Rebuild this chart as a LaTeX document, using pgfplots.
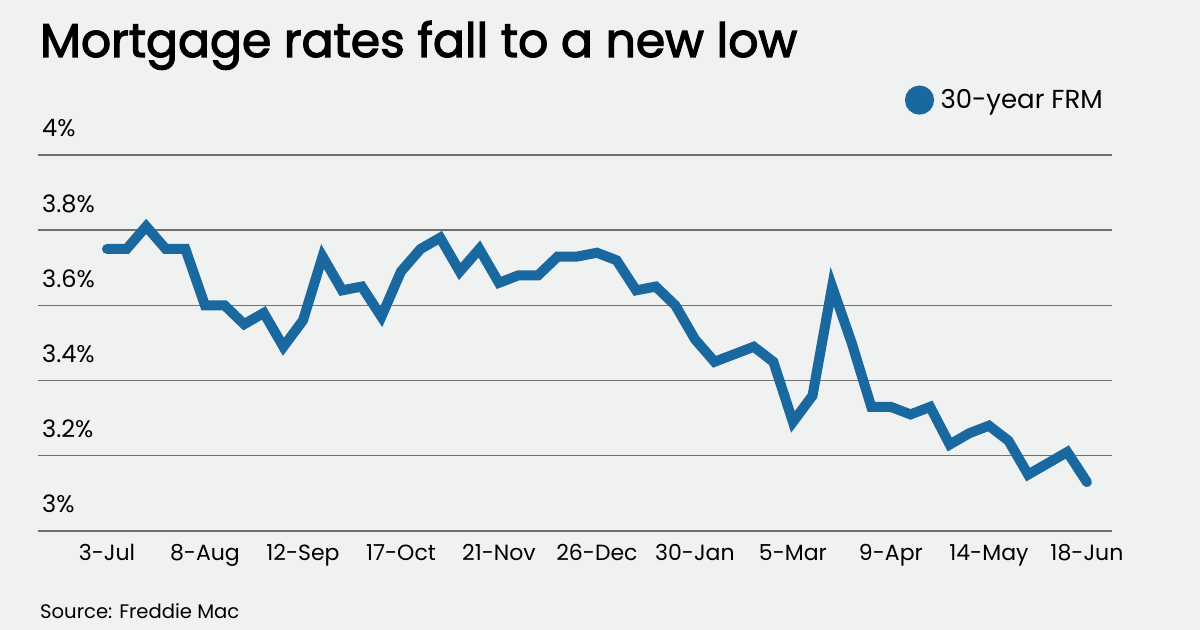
\documentclass[border=0pt]{standalone}
\usepackage{fontspec}
\setmainfont{Poppins}
\newfontfamily\titlefont{Poppins}
\usepackage{pgfplots}
\pgfplotsset{compat=1.18}
\definecolor{bg}{RGB}{240,241,241}
\definecolor{ln}{RGB}{26,104,160}
\definecolor{gr}{RGB}{112,112,112}
\begin{document}
\begin{tikzpicture}[x=1bp,y=1bp]
\fill[bg] (0,0) rectangle (1200,630);
\node[anchor=base west, inner sep=0, font=\fontsize{47.3bp}{60bp}\titlefont] at (40,573) {\special{pdf:literal direct 0 0 0 RG 2 Tr 1.2 w}Mortgage rates fall to a new low\special{pdf:literal direct 0 Tr}};
\node[anchor=base west, inner sep=0, font=\fontsize{19.6bp}{24bp}\selectfont] at (40,11) {Source: Freddie Mac};
\begin{axis}[
  at={(38bp,99bp)}, anchor=south west,
  scale only axis, width=1074bp, height=376bp,
  xmin=-3.52, xmax=51.28, ymin=3, ymax=4,
  axis line style={draw=none},
  major tick length=0pt,
  clip=false,
  ymajorgrids, grid style={gr, line width=1.4bp},
  ytick={3,3.2,3.4,3.6,3.8,4},
  yticklabels={3\%,3.2\%,3.4\%,3.6\%,3.8\%,4\%},
  yticklabel style={anchor=base west, inner sep=0pt, xshift=4bp, yshift=18bp, font=\fontsize{24bp}{26bp}\selectfont},
  xtick={0,5,...,50},
  xticklabels={3-Jul,8-Aug,12-Sep,17-Oct,21-Nov,26-Dec,30-Jan,5-Mar,9-Apr,14-May,18-Jun},
  xticklabel style={anchor=base, inner sep=0pt, yshift=-30bp, font=\fontsize{22bp}{26bp}\selectfont},
  legend style={draw=none, fill=none, at={(axis description cs:0.8071,1.146)}, anchor=west, font=\fontsize{26bp}{28bp}\selectfont, inner sep=0pt},
  legend image code/.code={\fill[ln] (0,0) circle (9.5bp); \path (14bp,0);},
]
\addplot[ln, line width=10bp, line cap=round, line join=miter] coordinates {
(0,3.75) (1,3.75) (2,3.81) (3,3.75) (4,3.75) (5,3.60) (6,3.60) (7,3.55) (8,3.58) (9,3.49)
(10,3.56) (11,3.73) (12,3.64) (13,3.65) (14,3.57) (15,3.69) (16,3.75) (17,3.78) (18,3.69) (19,3.75)
(20,3.66) (21,3.68) (22,3.68) (23,3.73) (24,3.73) (25,3.74) (26,3.72) (27,3.64) (28,3.65) (29,3.60)
(30,3.51) (31,3.45) (32,3.47) (33,3.49) (34,3.45) (35,3.29) (36,3.36) (37,3.65) (38,3.50) (39,3.33)
(40,3.33) (41,3.31) (42,3.33) (43,3.23) (44,3.26) (45,3.28) (46,3.24) (47,3.15) (48,3.18) (49,3.21)
(50,3.13)
};
\addlegendentry{30-year FRM}
\end{axis}
\end{tikzpicture}
\end{document}
